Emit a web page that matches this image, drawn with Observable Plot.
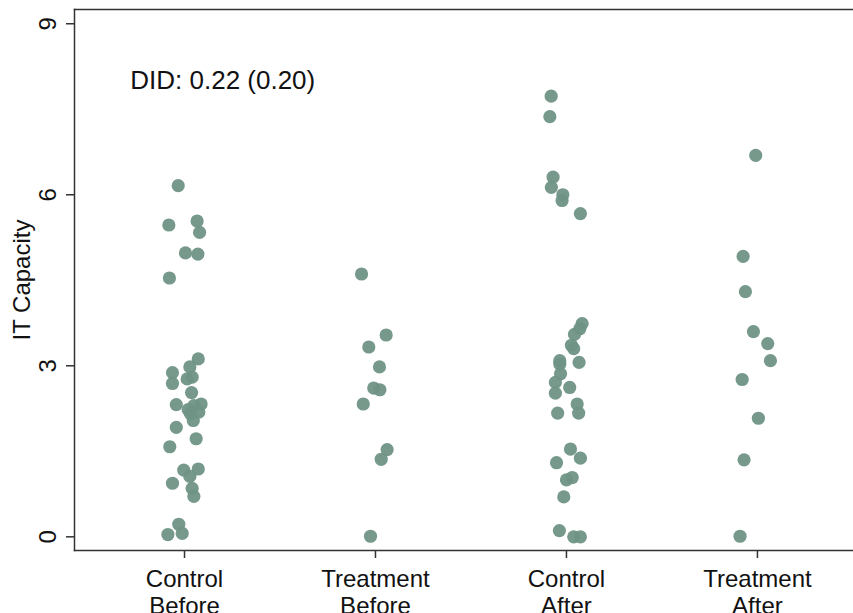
<!DOCTYPE html>
<html><head><meta charset="utf-8">
<script src="https://cdn.jsdelivr.net/npm/d3@7"></script>
<script src="https://cdn.jsdelivr.net/npm/@observablehq/plot@0.6"></script>
<style>body{margin:0;background:#fff}</style>
</head><body><div id="chart"></div>
<script>
// Group labels (x categories at positions 1..4)
const groupLabels = ["Control\nBefore", "Treatment\nBefore", "Control\nAfter", "Treatment\nAfter"];
const groupPositions = [1, 2, 3, 4];

// IT Capacity values (y) and jittered x positions
const controlBeforeY = [6.16,5.47,5.54,5.34,4.98,4.96,4.54,3.12,2.98,2.88,2.80,2.77,2.69,2.53,2.33,2.32,2.30,2.23,2.19,2.16,2.04,1.92,1.72,1.58,1.19,1.17,1.06,0.94,0.85,0.71,0.22,0.06,0.04];
const controlBeforeX = [0.967,0.918,1.066,1.079,1.005,1.070,0.921,1.072,1.028,0.937,1.040,1.014,0.937,1.037,1.087,0.957,1.049,1.019,1.075,1.031,1.046,0.957,1.061,0.923,1.072,0.996,1.028,0.937,1.040,1.049,0.970,0.988,0.913];

const treatmentBeforeY = [4.61,3.54,3.33,2.98,2.61,2.58,2.33,1.53,1.36,0.01];
const treatmentBeforeX = [1.927,2.056,1.965,2.021,1.991,2.023,1.936,2.061,2.030,1.974];

const controlAfterY = [7.73,7.37,6.31,6.13,6.00,5.90,5.67,3.74,3.65,3.55,3.36,3.30,3.09,3.06,3.03,2.86,2.71,2.62,2.52,2.33,2.17,2.17,1.54,1.38,1.30,1.04,1.00,0.70,0.11,0.00,0.00];
const controlAfterX = [2.920,2.913,2.930,2.921,2.981,2.977,3.073,3.082,3.070,3.042,3.026,3.038,2.965,3.066,2.965,2.969,2.942,3.017,2.942,3.056,3.064,2.954,3.021,3.073,2.948,3.030,3.000,2.986,2.963,3.038,3.073];

const treatmentAfterY = [6.69,4.92,4.30,3.60,3.39,3.09,2.76,2.08,1.35,0.01];
const treatmentAfterX = [3.991,3.925,3.937,3.979,4.054,4.068,3.920,4.005,3.930,3.909];

const yTicks = [0, 3, 6, 9];
const yLabel = "IT Capacity";
const annotationText = "DID: 0.22 (0.20)";
const annotationX = 0.716;
const annotationY = 8.0;

const points = [
  ...controlBeforeY.map((v, i) => ({x: controlBeforeX[i], y: v})),
  ...treatmentBeforeY.map((v, i) => ({x: treatmentBeforeX[i], y: v})),
  ...controlAfterY.map((v, i) => ({x: controlAfterX[i], y: v})),
  ...treatmentAfterY.map((v, i) => ({x: treatmentAfterX[i], y: v}))
];

const ink = "#333";
const chart = Plot.plot({
  width: 853, height: 613,
  marginLeft: 74, marginRight: 0, marginTop: 9, marginBottom: 63,
  x: {domain: [0.424, 4.503], axis: null},
  y: {domain: [-0.24, 9.25], axis: null},
  style: {fontFamily: "'Liberation Sans', Arial, sans-serif", background: "#fff", color: "#111"},
  marks: [
    Plot.frame({anchor: "top", stroke: ink, strokeWidth: 1.5}),
    Plot.frame({anchor: "left", stroke: ink, strokeWidth: 1.5}),
    Plot.frame({anchor: "bottom", stroke: ink, strokeWidth: 1.5}),
    Plot.axisY({ticks: yTicks, tickSize: 8, tickFormat: () => "", label: null, stroke: ink, strokeWidth: 1.5}),
    Plot.text(yTicks, {y: d => d, text: d => String(d), frameAnchor: "left", dx: -26, rotate: -90,
      textAnchor: "middle", lineAnchor: "middle", fontSize: 24, fill: "#111"}),
    Plot.text([yLabel], {frameAnchor: "left", dx: -52, rotate: -90, textAnchor: "middle",
      lineAnchor: "middle", fontSize: 24, fill: "#111"}),
    Plot.axisX({ticks: groupPositions, tickFormat: d => groupLabels[d - 1], tickSize: 8, tickPadding: 10,
      fontSize: 24, lineHeight: 1.1, label: null, stroke: ink, strokeWidth: 1.5}),
    Plot.dot(points, {x: "x", y: "y", r: 6.6, fill: "#6f9486", fillOpacity: 0.95, stroke: "none"}),
    Plot.text([annotationText], {x: () => annotationX, y: () => annotationY, textAnchor: "start",
      lineAnchor: "middle", fontSize: 26, fill: "#111"})
  ]
});
document.getElementById("chart").appendChild(chart);
</script>
</body></html>
